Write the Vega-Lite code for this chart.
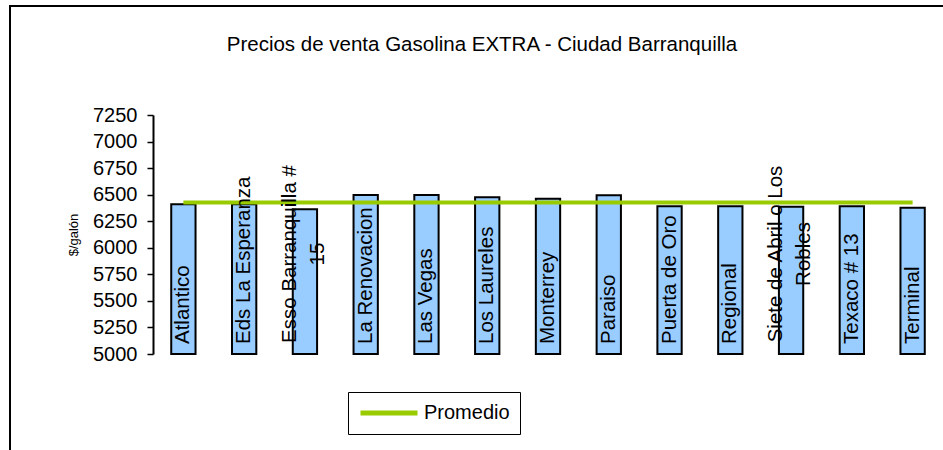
{
  "$schema": "https://vega.github.io/schema/vega-lite/v6.json",
  "autosize": "none",
  "padding": {"left": 10, "top": 6, "right": 0, "bottom": 0},
  "width": 940,
  "height": 450,
  "background": "white",
  "title": {
    "text": "Precios de venta Gasolina EXTRA - Ciudad Barranquilla",
    "font": "Liberation Sans",
    "fontSize": 20.5,
    "fontWeight": "normal",
    "color": "black",
    "anchor": "middle",
    "frame": "group",
    "baseline": "alphabetic",
    "offset": -65,
    "dx": 2
  },
  "data": {
    "values": [
      {"estacion": "Atlantico", "etiqueta": "Atlantico", "precio": 6410, "promedio": 6427},
      {"estacion": "Eds La Esperanza", "etiqueta": "Eds La Esperanza", "precio": 6410, "promedio": 6427},
      {"estacion": "Esso Barranquilla # 15", "etiqueta": "Esso Barranquilla #\n15", "precio": 6362, "promedio": 6427},
      {"estacion": "La Renovacion", "etiqueta": "La Renovacion", "precio": 6497, "promedio": 6427},
      {"estacion": "Las Vegas", "etiqueta": "Las Vegas", "precio": 6497, "promedio": 6427},
      {"estacion": "Los Laureles", "etiqueta": "Los Laureles", "precio": 6475, "promedio": 6427},
      {"estacion": "Monterrey", "etiqueta": "Monterrey", "precio": 6462, "promedio": 6427},
      {"estacion": "Paraiso", "etiqueta": "Paraiso", "precio": 6494, "promedio": 6427},
      {"estacion": "Puerta de Oro", "etiqueta": "Puerta de Oro", "precio": 6390, "promedio": 6427},
      {"estacion": "Regional", "etiqueta": "Regional", "precio": 6390, "promedio": 6427},
      {"estacion": "Siete de Abril o Los Robles", "etiqueta": "Siete de Abril o Los\nRobles", "precio": 6387, "promedio": 6427},
      {"estacion": "Texaco # 13", "etiqueta": "Texaco # 13", "precio": 6390, "promedio": 6427},
      {"estacion": "Terminal", "etiqueta": "Terminal", "precio": 6377, "promedio": 6427}
    ]
  },
  "encoding": {
    "x": {
      "field": "estacion",
      "type": "nominal",
      "sort": null,
      "axis": null,
      "scale": {"range": [143, 933], "paddingInner": 0.6, "paddingOuter": 0.3}
    }
  },
  "layer": [
    {
      "mark": {"type": "bar", "fill": "#99CCFF", "stroke": "black", "strokeWidth": 2},
      "encoding": {
        "y": {
          "field": "precio",
          "type": "quantitative",
          "scale": {"domain": [5000, 7250], "range": [348, 109], "zero": false, "nice": false},
          "axis": {
            "orient": "left",
            "offset": -143,
            "values": [5000, 5250, 5500, 5750, 6000, 6250, 6500, 6750, 7000, 7250],
            "format": "d",
            "grid": false,
            "domainColor": "black",
            "domainWidth": 2,
            "tickColor": "black",
            "tickWidth": 1.5,
            "tickSize": 6,
            "labelFont": "Liberation Sans",
            "labelFontSize": 20,
            "labelColor": "black",
            "labelPadding": 10,
            "title": "$/galón",
            "titleFont": "Liberation Sans",
            "titleFontSize": 13,
            "titleFontWeight": "normal",
            "titleColor": "black",
            "titlePadding": 12
          }
        },
        "y2": {"datum": 5000}
      }
    },
    {
      "mark": {"type": "line", "strokeWidth": 4},
      "encoding": {
        "y": {"field": "promedio", "type": "quantitative"},
        "color": {
          "datum": "Promedio",
          "type": "nominal",
          "scale": {"range": ["#99CC00"]},
          "legend": {
            "title": null,
            "orient": "none",
            "legendX": 338,
            "legendY": 386,
            "symbolType": "stroke",
            "symbolSize": 3249,
            "symbolStrokeWidth": 5,
            "clipHeight": 22,
            "labelFont": "Liberation Sans",
            "labelFontSize": 20,
            "labelColor": "black",
            "labelOffset": 4,
            "strokeColor": "black",
            "padding": 10
          }
        }
      }
    },
    {
      "transform": [{"filter": "indexof(datum.etiqueta, '\\n') < 0"}],
      "mark": {
        "type": "text",
        "angle": 270,
        "align": "left",
        "baseline": "middle",
        "dx": 10,
        "font": "Liberation Sans",
        "fontSize": 20.5,
        "color": "black"
      },
      "encoding": {
        "y": {"datum": 5000, "type": "quantitative"},
        "text": {"field": "etiqueta"}
      }
    },
    {
      "transform": [{"filter": "indexof(datum.etiqueta, '\\n') >= 0"}],
      "mark": {
        "type": "text",
        "angle": 270,
        "align": "center",
        "baseline": "middle",
        "dx": 100,
        "dy": -15,
        "font": "Liberation Sans",
        "fontSize": 20.5,
        "color": "black",
        "lineBreak": "\n",
        "lineHeight": 28
      },
      "encoding": {
        "y": {"datum": 5000, "type": "quantitative"},
        "text": {"field": "etiqueta"}
      }
    }
  ],
  "config": {
    "view": {"stroke": "black", "strokeWidth": 2, "fill": "white"}
  }
}
